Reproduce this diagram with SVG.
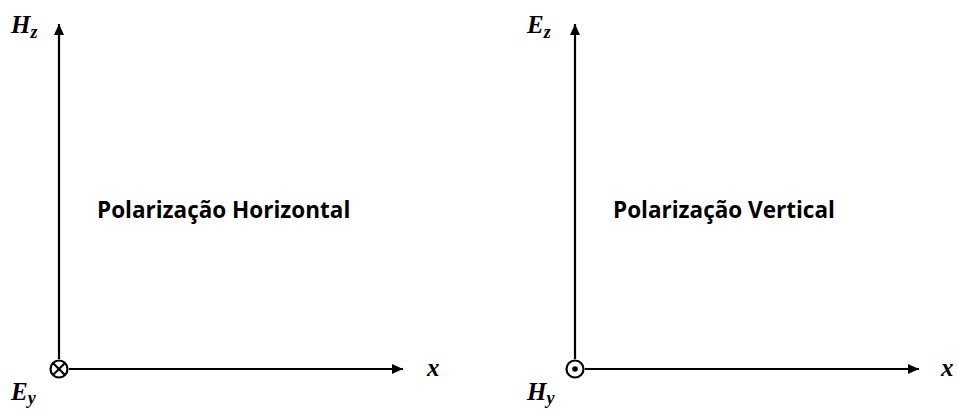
<svg xmlns="http://www.w3.org/2000/svg" width="958" height="410" viewBox="0 0 958 410">
<defs>
<marker id="ah" viewBox="0 0 11 10" refX="11" refY="5" markerWidth="11" markerHeight="10" markerUnits="userSpaceOnUse" orient="auto">
<path d="M0,0 L11,5 L0,10 Z" fill="#000"/>
</marker>
</defs>
<style>
.ax{stroke:#000;stroke-width:2.2;fill:none}
.lbl{font-family:"Liberation Serif",serif;font-weight:bold;font-style:italic;font-size:25px;fill:#000}
.sub{font-size:18px}
.title{font-family:"Open Sans","Liberation Sans",sans-serif;font-weight:bold;font-size:22.5px;fill:#000}
</style>
<g id="connectors">
<line class="ax" x1="59" y1="359" x2="59" y2="24" marker-end="url(#ah)"/>
<line class="ax" x1="69" y1="369" x2="403" y2="369" marker-end="url(#ah)"/>
<line class="ax" x1="575" y1="359" x2="575" y2="24" marker-end="url(#ah)"/>
<line class="ax" x1="585" y1="369" x2="919" y2="369" marker-end="url(#ah)"/>
</g>
<g id="node-left-origin">
<circle cx="59" cy="369" r="8.5" fill="#fff" stroke="#000" stroke-width="2.2"/>
<line x1="53" y1="363" x2="65" y2="375" stroke="#000" stroke-width="2.2"/>
<line x1="65" y1="363" x2="53" y2="375" stroke="#000" stroke-width="2.2"/>
</g>
<g id="node-right-origin">
<circle cx="575" cy="369" r="8.5" fill="#fff" stroke="#000" stroke-width="2.2"/>
<circle cx="575" cy="369" r="2.8" fill="#000"/>
</g>
<g id="labels-left">
<text class="lbl" x="11" y="33">H<tspan class="sub" dy="5">z</tspan></text>
<text class="lbl" x="11" y="400">E<tspan class="sub" dy="4">y</tspan></text>
<text class="lbl" x="427" y="376">x</text>
<text class="title" x="97" y="218">Polarização Horizontal</text>
</g>
<g id="labels-right">
<text class="lbl" x="527" y="33">E<tspan class="sub" dy="5">z</tspan></text>
<text class="lbl" x="527" y="400">H<tspan class="sub" dy="4">y</tspan></text>
<text class="lbl" x="941" y="376">x</text>
<text class="title" x="613" y="218">Polarização Vertical</text>
</g>
</svg>
